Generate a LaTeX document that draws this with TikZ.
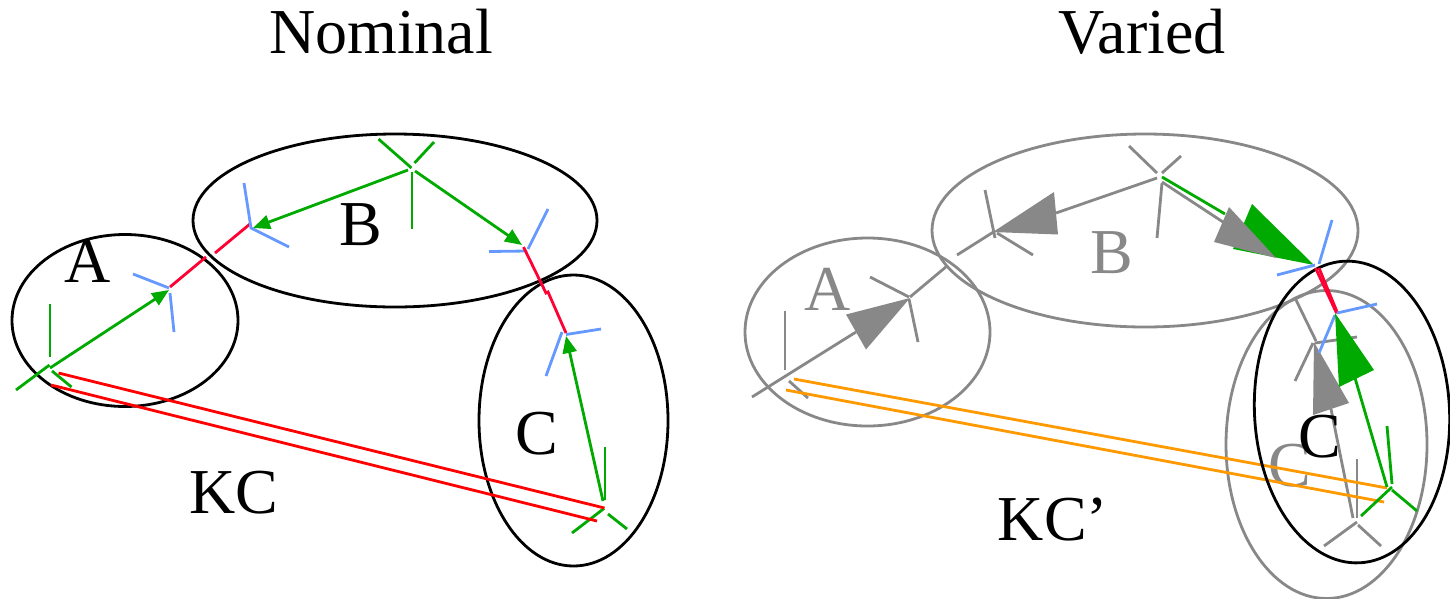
\documentclass[tikz,border=0pt]{standalone}
\usepackage{fontspec}
\setmainfont{Liberation Serif}
\usetikzlibrary{shapes.geometric,arrows.meta}
\definecolor{cgreen}{HTML}{00AA00}
\definecolor{cblue}{HTML}{6699FF}
\definecolor{cred}{HTML}{FF0000}
\definecolor{clink}{HTML}{FF0033}
\definecolor{cgray}{HTML}{888888}
\definecolor{corange}{HTML}{FF9900}
\tikzset{
  ell/.style={ellipse,draw=#1,line width=2.8pt,inner sep=0pt,outer sep=0pt},
  lab/.style={anchor=base,inner sep=0pt,outer sep=0pt,text=#1,font=\fontsize{64}{70}\selectfont},
  lab/.default=black,
  seg/.style={draw=#1,line width=2.8pt},
  headed/.style={draw=#1,line width=2.8pt,-{Triangle[length=17pt,width=14pt,fill=#1]}},
  bighead/.style={fill=#1,draw=none}
}
\begin{document}
\begin{tikzpicture}[x=1pt,y=-1pt]
\useasboundingbox (0,0) rectangle (1450,598);
% ---------- Nominal ----------
\node[lab] (tN) at (381,53) {Nominal};
\node[ell=black,minimum width=226pt,minimum height=172pt] (eA) at (125,320.5) {};
\node[ell=black,minimum width=404pt,minimum height=173pt] (eB) at (395,220.5) {};
\node[ell=black,minimum width=189pt,minimum height=291pt] (eC) at (573.5,420.5) {};
\node[lab] (lA) at (88,282) {A};
\node[lab] (lB) at (361,245) {B};
\node[lab] (lC) at (537,454) {C};
\node[lab] (lKC) at (234,513) {KC};
% frame at lower left
\coordinate (a1) at (50,304); \coordinate (a2) at (50,357);
\coordinate (a3) at (16,390); \coordinate (a4) at (49.5,365);
\coordinate (a5) at (52,371); \coordinate (a6) at (71.5,387);
\coordinate (a7) at (50,368); \coordinate (a8) at (169,290);
\draw[seg=cgreen] (a1) -- (a2);
\draw[seg=cgreen] (a3) -- (a4);
\draw[seg=cgreen] (a5) -- (a6);
\draw[headed=cgreen] (a7) -- (a8);
% blue frame in A
\coordinate (b1) at (133,274); \coordinate (b2) at (169,288);
\coordinate (b3) at (170,293); \coordinate (b4) at (174,332);
\draw[seg=cblue] (b1) -- (b2);
\draw[seg=cblue] (b3) -- (b4);
% link A-B
\coordinate (r1) at (170,287); \coordinate (r2) at (206,257);
\coordinate (r3) at (215,253); \coordinate (r4) at (250,224);
\draw[seg=clink] (r1) -- (r2);
\draw[seg=clink] (r3) -- (r4);
% blue frame at B
\coordinate (c1) at (244,183); \coordinate (c2) at (251,228);
\coordinate (c3) at (289,247);
\draw[seg=cblue] (c1) -- (c2) -- (c3);
% green frame in B
\coordinate (d1) at (378.5,139); \coordinate (d2) at (411.5,168);
\coordinate (d3) at (414.5,163); \coordinate (d4) at (434,142);
\coordinate (d5) at (412,172); \coordinate (d6) at (412,229);
\coordinate (d7) at (408,170); \coordinate (d8) at (253,228);
\coordinate (d9) at (415,171); \coordinate (d10) at (522,245);
\draw[seg=cgreen] (d1) -- (d2);
\draw[seg=cgreen] (d3) -- (d4);
\draw[seg=cgreen] (d5) -- (d6);
\draw[headed=cgreen] (d7) -- (d8);
\draw[headed=cgreen] (d9) -- (d10);
% blue frame right of B
\coordinate (e1) at (489,251.5); \coordinate (e2) at (527,251);
\coordinate (e3) at (528,249); \coordinate (e4) at (548,209);
\draw[seg=cblue] (e1) -- (e2);
\draw[seg=cblue] (e3) -- (e4);
% link B-C
\coordinate (s1) at (523.5,247); \coordinate (s2) at (546,293);
\coordinate (s3) at (548,292); \coordinate (s4) at (566,333);
\draw[seg=clink] (s1) -- (s2) -- (s3) -- (s4);
% blue frame in C
\coordinate (f1) at (566,334.5); \coordinate (f2) at (601,329);
\coordinate (f3) at (562,332); \coordinate (f4) at (546,376);
\draw[seg=cblue] (f1) -- (f2);
\draw[seg=cblue] (f3) -- (f4);
% green frame in C
\coordinate (g1) at (603,501); \coordinate (g2) at (566,336);
\coordinate (g3) at (605,500); \coordinate (g4) at (605,447);
\coordinate (g5) at (604,508.5); \coordinate (g6) at (572,533);
\coordinate (g7) at (608,514); \coordinate (g8) at (627,529);
\draw[headed=cgreen] (g1) -- (g2);
\draw[seg=cgreen] (g3) -- (g4);
\draw[seg=cgreen] (g5) -- (g6);
\draw[seg=cgreen] (g7) -- (g8);
% KC
\coordinate (k1) at (58.5,373); \coordinate (k2) at (604.5,508);
\coordinate (k3) at (51,385); \coordinate (k4) at (597,521);
\draw[seg=cred] (k1) -- (k2);
\draw[seg=cred] (k3) -- (k4);
% ---------- Varied ----------
\node[lab] (tV) at (1142,53) {Varied};
\node[ell=cgray,minimum width=245pt,minimum height=188pt] (vA) at (867.5,332) {};
\node[ell=cgray,minimum width=426pt,minimum height=193pt] (vB) at (1145,230.5) {};
\node[ell=cgray,minimum width=201pt,minimum height=308pt] (vC) at (1326.5,444.5) {};
\node[lab=cgray] (vlA) at (828,310) {A};
\node[lab=cgray] (vlB) at (1112,273) {B};
\node[lab=cgray] (vlC) at (1290,486) {C};
\node[lab] (lKCp) at (1053,540) {KC’};
% gray frame lower left
\coordinate (h1) at (785,311); \coordinate (h2) at (785,370);
\coordinate (h3) at (752,397); \coordinate (h4) at (856,332);
\coordinate (h5) at (789,381); \coordinate (h6) at (808,398);
\draw[seg=cgray] (h1) -- (h2);
\draw[seg=cgray] (h3) -- (h4);
\draw[seg=cgray] (h5) -- (h6);
\coordinate (h7) at (910,298); \coordinate (h8) at (846,314.5); \coordinate (h9) at (866,349.5);
\fill[bighead=cgray] (h7) -- (h8) -- (h9) -- cycle;
% gray frame in A
\coordinate (i1) at (870,277); \coordinate (i2) at (909,297);
\coordinate (i3) at (909,299); \coordinate (i4) at (918,342);
\coordinate (i5) at (910,297); \coordinate (i6) at (947,266);
\draw[seg=cgray] (i1) -- (i2);
\draw[seg=cgray] (i3) -- (i4);
\draw[seg=cgray] (i5) -- (i6);
% gray frame in B
\coordinate (j1) at (957,255); \coordinate (j2) at (995,231);
\coordinate (j3) at (985,190); \coordinate (j4) at (995,238);
\coordinate (j5) at (997,233); \coordinate (j6) at (1033,255);
\draw[seg=cgray] (j1) -- (j2);
\draw[seg=cgray] (j3) -- (j4);
\draw[seg=cgray] (j5) -- (j6);
\coordinate (j7) at (993,232); \coordinate (j8) at (1054,192); \coordinate (j9) at (1058,234.5);
\fill[bighead=cgray] (j7) -- (j8) -- (j9) -- cycle;
% gray frame at top
\coordinate (l1) at (1129,146); \coordinate (l2) at (1157,173);
\coordinate (l3) at (1162,173); \coordinate (l4) at (1181,156);
\coordinate (l5) at (1157,178); \coordinate (l6) at (1056,213);
\coordinate (l7) at (1162,183); \coordinate (l8) at (1157,238);
\draw[seg=cgray] (l1) -- (l2);
\draw[seg=cgray] (l3) -- (l4);
\draw[seg=cgray] (l5) -- (l6);
\draw[seg=cgray] (l7) -- (l8);
% green large arrow to right frame
\coordinate (m1) at (1162,177); \coordinate (m2) at (1225,214);
\draw[seg=cgreen] (m1) -- (m2);
\coordinate (m3) at (1314,265); \coordinate (m4) at (1252,204); \coordinate (m5) at (1233,249);
\fill[bighead=cgreen] (m3) -- (m4) -- (m5) -- cycle;
% gray large arrow to right frame
\coordinate (n1) at (1162,182); \coordinate (n2) at (1223,222);
\draw[seg=cgray] (n1) -- (n2);
\coordinate (n3) at (1276,258); \coordinate (n4) at (1229,207); \coordinate (n5) at (1214,242);
\fill[bighead=cgray] (n3) -- (n4) -- (n5) -- cycle;
% gray frame in gray C
\coordinate (o1) at (1296,300); \coordinate (o2) at (1316,341);
\coordinate (o3) at (1315,343); \coordinate (o4) at (1357,337);
\coordinate (o5) at (1313,343); \coordinate (o6) at (1295,381);
\draw[seg=cgray] (o1) -- (o2);
\draw[seg=cgray] (o3) -- (o4);
\draw[seg=cgray] (o5) -- (o6);
\coordinate (o7) at (1314,342); \coordinate (o8) at (1349,403); \coordinate (o9) at (1313,415);
\fill[bighead=cgray] (o7) -- (o8) -- (o9) -- cycle;
\coordinate (o10) at (1331,409); \coordinate (o11) at (1353,518);
\draw[seg=cgray] (o10) -- (o11);
% gray frame bottom
\coordinate (q1) at (1357,459); \coordinate (q2) at (1357,518);
\coordinate (q3) at (1357,522); \coordinate (q4) at (1324,546);
\coordinate (q5) at (1358,525); \coordinate (q6) at (1381,546);
\draw[seg=cgray] (q1) -- (q2);
\draw[seg=cgray] (q3) -- (q4);
\draw[seg=cgray] (q5) -- (q6);
% orange KC'
\coordinate (t1) at (794,379); \coordinate (t2) at (1387,488);
\coordinate (t3) at (786,390); \coordinate (t4) at (1384,502);
\draw[seg=corange] (t1) -- (t2);
\draw[seg=corange] (t3) -- (t4);
% black C on top
\node[ell=black,rotate=3,minimum width=195pt,minimum height=302pt] (vCb) at (1352,412) {};
\node[lab] (vlCb) at (1320,457) {C};
% red link
\coordinate (u1) at (1315.5,268); \coordinate (u2) at (1336.5,313);
\coordinate (u3) at (1319,268); \coordinate (u4) at (1337.5,313);
\draw[seg=clink] (u1) -- (u2);
\draw[seg=clink] (u3) -- (u4);
% blue frames
\coordinate (w1) at (1277,275); \coordinate (w2) at (1315,265);
\coordinate (w3) at (1319,264); \coordinate (w4) at (1332,220);
\draw[seg=cblue] (w1) -- (w2);
\draw[seg=cblue] (w3) -- (w4);
\coordinate (x1) at (1337,313); \coordinate (x2) at (1377,304);
\coordinate (x3) at (1335,315); \coordinate (x4) at (1319,353);
\draw[seg=cblue] (x1) -- (x2);
\draw[seg=cblue] (x3) -- (x4);
% green frame in black C
\coordinate (y1) at (1387,487); \coordinate (y2) at (1355,378);
\draw[seg=cgreen] (y1) -- (y2);
\coordinate (y3) at (1335,313); \coordinate (y4) at (1374,370); \coordinate (y5) at (1339,387);
\fill[bighead=cgreen] (y3) -- (y4) -- (y5) -- cycle;
\coordinate (z1) at (1392,484); \coordinate (z2) at (1387,426);
\coordinate (z3) at (1392,487); \coordinate (z4) at (1361,516);
\coordinate (z5) at (1392,490); \coordinate (z6) at (1417,511);
\draw[seg=cgreen] (z1) -- (z2);
\draw[seg=cgreen] (z3) -- (z4);
\draw[seg=cgreen] (z5) -- (z6);
\end{tikzpicture}
\end{document}
